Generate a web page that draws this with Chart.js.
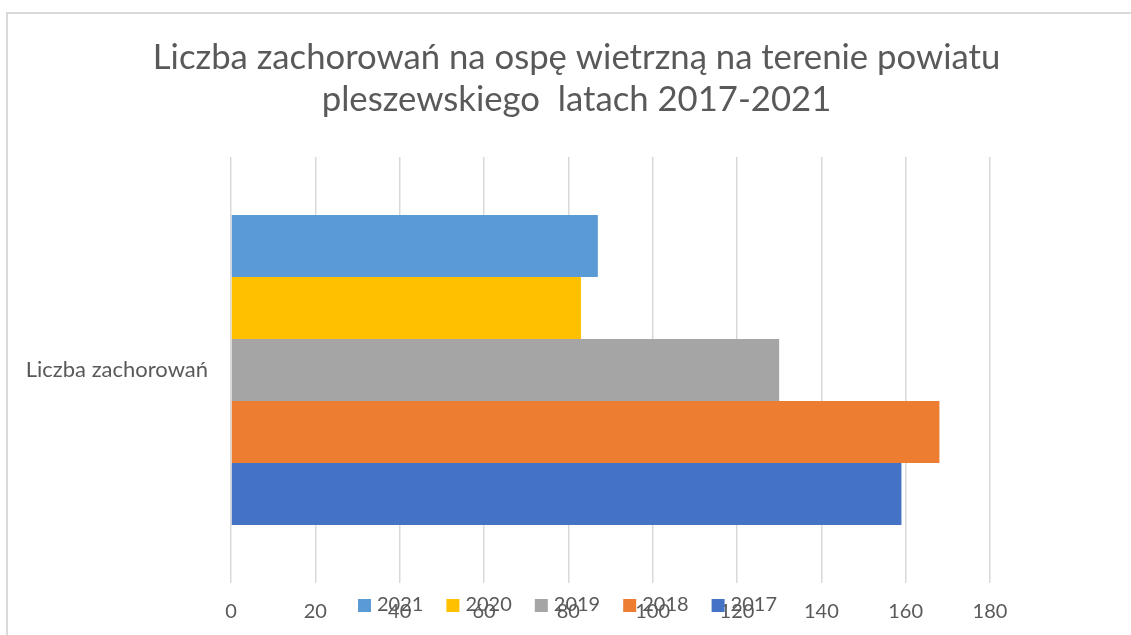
<!DOCTYPE html>
<html>
<head>
<meta charset="utf-8">
<script src="https://cdn.jsdelivr.net/npm/chart.js@4/dist/chart.umd.min.js"></script>
<style>
  body { margin: 0; background: #fff; overflow: hidden; }
  #frame { position: absolute; left: 6px; top: 12px; width: 1300px; height: 800px; border: 2px solid #d9d9d9; }
  #wrap { position: absolute; left: 0; top: 0; width: 1131px; height: 635px; }
</style>
</head>
<body>
<div id="frame"></div>
<div id="wrap"><canvas id="chart1"></canvas></div>
<script>
const categories = ['Liczba zachorowań'];
const years = ['2021', '2020', '2019', '2018', '2017'];
const values2021 = [87];
const values2020 = [83];
const values2019 = [130];
const values2018 = [168];
const values2017 = [159];
const xTicks = [0, 20, 40, 60, 80, 100, 120, 140, 160, 180];

const FONT = 'Lato, "Open Sans", sans-serif';
const GREY = '#595959';

// Excel draws the legend on top of the axis labels, so paint it by hand
const overlapLegend = {
    id: 'overlapLegend',
    afterDraw(chart) {
        const ctx = chart.ctx;
        const box = 13, gap = 6, spacing = 23;
        ctx.save();
        ctx.font = '20px ' + FONT;
        ctx.textBaseline = 'middle';
        ctx.textAlign = 'left';
        const items = chart.data.datasets.map(ds => ({
            label: ds.label,
            color: ds.backgroundColor,
            w: box + gap + ctx.measureText(ds.label).width
        }));
        const total = items.reduce((s, it) => s + it.w, 0) + spacing * (items.length - 1);
        let x = chart.width / 2 + 2 - total / 2;
        const y = 605;
        items.forEach(it => {
            ctx.fillStyle = it.color;
            ctx.fillRect(x, y - 6, box, box);
            ctx.fillStyle = GREY;
            ctx.fillText(it.label, x + box + gap, y);
            x += it.w + spacing;
        });
        ctx.restore();
    }
};

const ctx1 = document.getElementById('chart1');

new Chart(ctx1, {
    type: 'bar',
    data: {
        labels: categories,
        datasets: [
            { label: years[0], data: values2021, backgroundColor: '#5b9bd5' },
            { label: years[1], data: values2020, backgroundColor: '#ffc000' },
            { label: years[2], data: values2019, backgroundColor: '#a5a5a5' },
            { label: years[3], data: values2018, backgroundColor: '#ed7d31' },
            { label: years[4], data: values2017, backgroundColor: '#4472c4' }
        ]
    },
    plugins: [overlapLegend],
    options: {
        indexAxis: 'y',
        responsive: true,
        maintainAspectRatio: false,
        animation: false,
        layout: {
            padding: { left: 22, right: 0, top: 0, bottom: 0 }
        },
        datasets: {
            bar: { categoryPercentage: 0.728, barPercentage: 1.0 }
        },
        plugins: {
            legend: { display: false },
            tooltip: { enabled: false },
            title: {
                display: true,
                text: ['Liczba zachorowań na ospę wietrzną na terenie powiatu', 'pleszewskiego  latach 2017-2021'],
                color: GREY,
                font: { family: FONT, size: 34.7, weight: 'normal', lineHeight: 1.21 },
                padding: { top: 37, bottom: 36 }
            }
        },
        scales: {
            x: {
                min: 0,
                max: 180,
                afterBuildTicks: (scale) => {
                    scale.ticks = xTicks.map(v => ({ value: v }));
                },
                afterFit: (scale) => { scale.height = 52; },
                grid: { color: '#d9d9d9', lineWidth: 1.5, drawTicks: false },
                border: { display: false },
                ticks: {
                    color: GREY,
                    padding: 17,
                    maxRotation: 0,
                    font: { family: FONT, size: 20 }
                }
            },
            y: {
                afterFit: (scale) => { scale.width = 209; },
                grid: { display: false, drawTicks: false },
                border: { display: false },
                ticks: {
                    color: GREY,
                    padding: 23,
                    font: { family: FONT, size: 22 }
                }
            },
            // empty axis on the right only to leave the gap Excel keeps there
            yRight: {
                type: 'category',
                position: 'right',
                labels: categories,
                afterFit: (scale) => { scale.width = 141; },
                grid: { display: false, drawTicks: false },
                border: { display: false },
                ticks: { display: false }
            }
        }
    }
});
</script>
</body>
</html>
